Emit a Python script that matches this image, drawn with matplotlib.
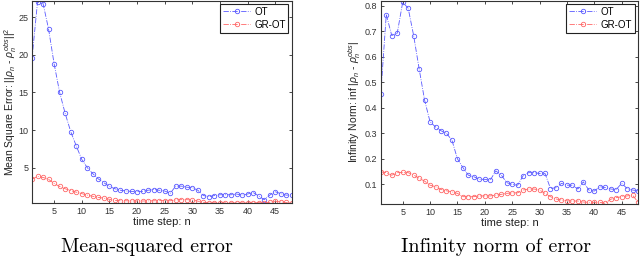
import matplotlib
matplotlib.use("Agg")
import matplotlib.pyplot as plt
import matplotlib.ticker as mticker
import numpy as np

plt.rcParams['font.family'] = ['Liberation Sans', 'DejaVu Sans']
plt.rcParams['mathtext.fontset'] = 'custom'
plt.rcParams['mathtext.rm'] = 'Liberation Sans'
plt.rcParams['mathtext.it'] = 'Liberation Sans:italic'
plt.rcParams['mathtext.bf'] = 'Liberation Sans:bold'

n = np.arange(1, 49)

mse_ot = [19.5, 27.0, 26.8, 23.4, 18.8, 15.0, 12.2, 9.8, 7.9, 6.1, 5.0, 4.2,
          3.5, 3.0, 2.5, 2.2, 2.0, 1.9, 1.85, 1.8, 1.85, 2.0, 2.1, 2.0,
          1.9, 1.6, 2.55, 2.55, 2.4, 2.35, 2.0, 1.3, 1.15, 1.3, 1.4, 1.4,
          1.4, 1.5, 1.35, 1.5, 1.7, 1.25, 0.75, 1.35, 1.8, 1.55, 1.35, 1.4]
mse_grot = [3.45, 3.85, 3.7, 3.45, 2.9, 2.5, 2.2, 1.95, 1.75, 1.55, 1.35, 1.2,
            1.05, 0.95, 0.8, 0.65, 0.6, 0.6, 0.58, 0.57, 0.57, 0.58, 0.6, 0.62,
            0.62, 0.6, 0.72, 0.75, 0.75, 0.7, 0.55, 0.4, 0.35, 0.33, 0.32, 0.32,
            0.32, 0.32, 0.32, 0.33, 0.35, 0.35, 0.32, 0.4, 0.55, 0.45, 0.38, 0.3]

inf_ot = [0.455, 0.765, 0.683, 0.692, 0.813, 0.79, 0.683, 0.553, 0.43, 0.345,
          0.325, 0.31, 0.30, 0.273, 0.20, 0.166, 0.136, 0.13, 0.12, 0.12,
          0.117, 0.153, 0.137, 0.107, 0.10, 0.097, 0.134, 0.146, 0.146, 0.143,
          0.143, 0.084, 0.087, 0.104, 0.097, 0.097, 0.082, 0.11, 0.078, 0.074,
          0.091, 0.088, 0.082, 0.08, 0.104, 0.084, 0.078, 0.075]
inf_grot = [0.149, 0.146, 0.136, 0.146, 0.147, 0.146, 0.137, 0.124, 0.113, 0.097,
            0.091, 0.08, 0.075, 0.071, 0.065, 0.052, 0.052, 0.052, 0.055, 0.055,
            0.055, 0.058, 0.061, 0.065, 0.067, 0.067, 0.078, 0.082, 0.082, 0.078,
            0.065, 0.052, 0.043, 0.039, 0.036, 0.035, 0.035, 0.031, 0.03, 0.03,
            0.03, 0.026, 0.042, 0.048, 0.052, 0.055, 0.058, 0.03]

labels = ["OT", "GR-OT"]
xticks = [5, 10, 15, 20, 25, 30, 35, 40, 45]

fig = plt.figure(figsize=(6.4, 2.59), dpi=100)
ax1 = fig.add_axes([0.050, 0.216, 0.406, 0.782])
ax2 = fig.add_axes([0.595, 0.212, 0.402, 0.786])

blue = (0.35, 0.35, 1.0)
red = (1.0, 0.4, 0.4)

def style(ax, ot, gr, ylim, yticks, ylabel):
    ax.plot(n, ot, linestyle='-.', color=blue, lw=0.6, marker='o', ms=3.2,
            mfc='none', mew=0.6, label=labels[0])
    ax.plot(n, gr, linestyle='-.', color=red, lw=0.6, marker='o', ms=3.2,
            mfc='none', mew=0.6, label=labels[1])
    ax.set_xlim(1, 48)
    ax.set_ylim(*ylim)
    ax.set_xticks(xticks)
    ax.set_yticks(yticks)
    ax.tick_params(direction='in', top=True, right=True, labelsize=6.5,
                   length=2.5, width=0.5, pad=2.5, labelcolor='#333333')
    for s in ax.spines.values():
        s.set_linewidth(0.8)
        s.set_color('#333333')
    ax.set_xlabel("time step: n", fontsize=8, labelpad=1, color='#222222')
    ax.set_ylabel(ylabel, fontsize=7.5, labelpad=1, color='#222222')
    leg = ax.legend(loc='upper right', fontsize=7, frameon=True, fancybox=False,
                    borderpad=0.3, handlelength=2.8, handletextpad=0.4,
                    labelspacing=0.3, borderaxespad=0.35)
    leg.get_frame().set_edgecolor('#222222')
    leg.get_frame().set_linewidth(0.8)
    leg.get_frame().set_alpha(1)

style(ax1, mse_ot, mse_grot, (0.3, 27.2), [5, 10, 15, 20, 25],
      r"Mean Square Error: $||\rho_n$ - $\rho_n^{obs}||^2$")
style(ax2, inf_ot, inf_grot, (0.023, 0.82), [0.1, 0.2, 0.3, 0.4, 0.5, 0.6, 0.7, 0.8],
      r"Infinity Norm: inf $|\rho_n$ - $\rho_n^{obs}|$")
ax2.yaxis.set_major_formatter(mticker.FormatStrFormatter('%g'))
ax1.yaxis.set_label_coords(-0.05, 0.5)

fig.text(0.23, 0.045, "Mean-squared error", family='cmr10', fontsize=14.5,
         ha='center', va='center')
fig.text(0.775, 0.045, "Infinity norm of error", family='cmr10', fontsize=14.5,
         ha='center', va='center')

fig.savefig("out.png", dpi=100)
